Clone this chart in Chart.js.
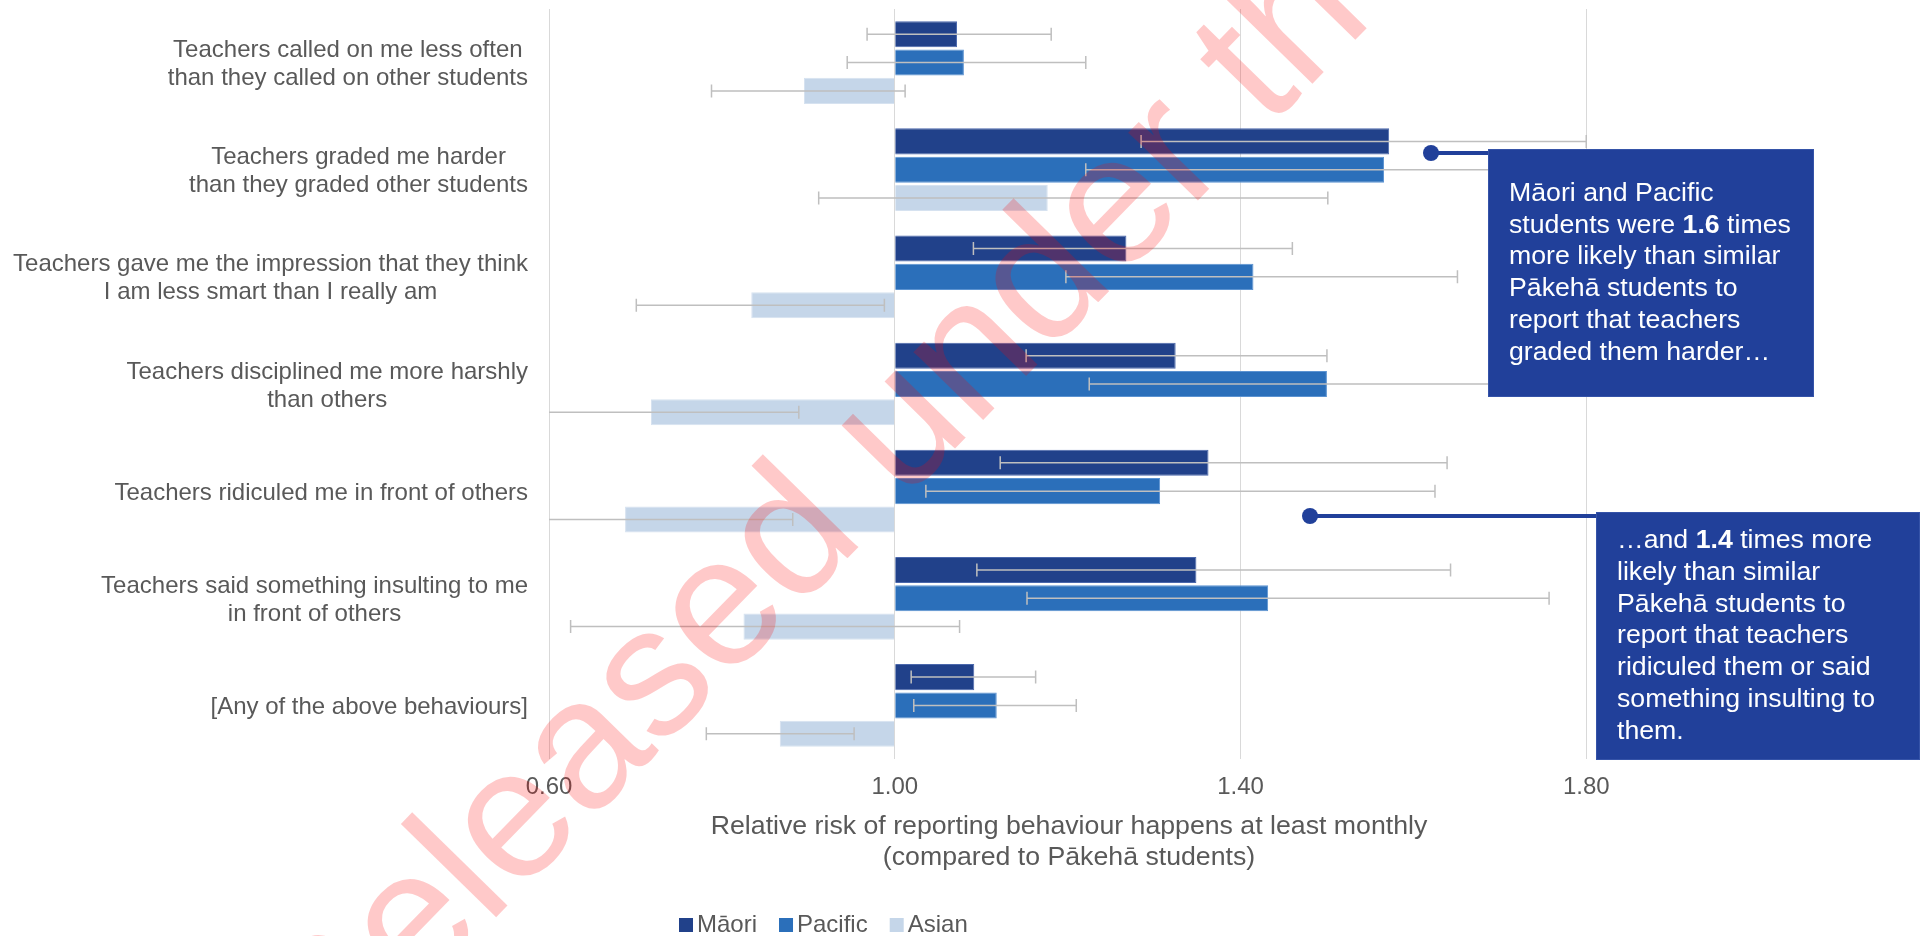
<!DOCTYPE html>
<html>
<head>
<meta charset="utf-8">
<script src="https://cdn.jsdelivr.net/npm/chart.js@4.4.1/dist/chart.umd.min.js"></script>
<style>
  html, body { margin: 0; padding: 0; background: #ffffff; overflow: hidden; }
  #wrap { position: relative; width: 1932px; height: 936px; }
</style>
</head>
<body>
<div id="wrap"><canvas id="chart"></canvas></div>
<script>
// Behaviours asked about (each entry is one wrapped label)
const CATEGORIES = [
  ['Teachers called on me less often', 'than they called on other students'],
  ['Teachers graded me harder', 'than they graded other students'],
  ['Teachers gave me the impression that they think', 'I am less smart than I really am'],
  ['Teachers disciplined me more harshly', 'than others'],
  ['Teachers ridiculed me in front of others'],
  ['Teachers said something insulting to me', 'in front of others'],
  ['[Any of the above behaviours]']
];

const SERIES_NAMES = ['Māori', 'Pacific', 'Asian'];

// Relative risk vs Pākehā students, with 95% confidence limits
const MAORI      = [1.072, 1.572, 1.268, 1.325, 1.363, 1.349, 1.092];
const MAORI_LOW  = [0.968, 1.285, 1.091, 1.152, 1.122, 1.095, 1.019];
const MAORI_HIGH = [1.181, 1.800, 1.460, 1.500, 1.639, 1.643, 1.163];

const PACIFIC      = [1.080, 1.566, 1.415, 1.500, 1.307, 1.432, 1.118];
const PACIFIC_LOW  = [0.945, 1.221, 1.198, 1.225, 1.036, 1.153, 1.022];
const PACIFIC_HIGH = [1.221, 2.010, 1.651, 1.840, 1.625, 1.757, 1.210];

const ASIAN      = [0.895, 1.177, 0.834, 0.718, 0.688, 0.825, 0.867];
const ASIAN_LOW  = [0.788, 0.912, 0.701, 0.581, 0.540, 0.625, 0.782];
const ASIAN_HIGH = [1.012, 1.501, 0.988, 0.889, 0.882, 1.075, 0.953];

const X_TICKS = [0.60, 1.00, 1.40, 1.80];

const AXIS_TITLE = ['Relative risk of reporting behaviour happens at least monthly',
                    '(compared to Pākehā students)'];

const CALLOUT_1 = [
  [['Māori and Pacific', false]],
  [['students were ', false], ['1.6', true], [' times', false]],
  [['more likely than similar', false]],
  [['Pākehā students to', false]],
  [['report that teachers', false]],
  [['graded them harder…', false]]
];
const CALLOUT_2 = [
  [['…and ', false], ['1.4', true], [' times more', false]],
  [['likely than similar', false]],
  [['Pākehā students to', false]],
  [['report that teachers', false]],
  [['ridiculed them or said', false]],
  [['something insulting to', false]],
  [['them.', false]]
];

const WATERMARK = 'Released under the';

const FONT = '"Liberation Sans", Arial, Helvetica, sans-serif';
const TEXT_GREY = '#595959';
const SERIES_FILL = ['#21418A', '#2B6FBA', '#C5D6E9'];
const SERIES_EDGE = ['#4B68AC', '#5C93D1', '#D6E2F0'];
const CALLOUT_BLUE = '#21409A';

// Confidence-interval whiskers, clipped to the plot area
const errorBars = {
  id: 'errorBars',
  afterDatasetsDraw(chart) {
    const { ctx, chartArea: a, scales: { x } } = chart;
    ctx.save();
    ctx.beginPath();
    ctx.rect(a.left, a.top, a.right - a.left, a.bottom - a.top);
    ctx.clip();
    ctx.strokeStyle = '#BFBFBF';
    ctx.lineWidth = 1.5;
    chart.data.datasets.forEach((ds, di) => {
      chart.getDatasetMeta(di).data.forEach((bar, i) => {
        const x1 = x.getPixelForValue(ds.ciLow[i]);
        const x2 = x.getPixelForValue(ds.ciHigh[i]);
        const y = bar.y;
        ctx.beginPath();
        ctx.moveTo(x1, y); ctx.lineTo(x2, y);
        ctx.moveTo(x1, y - 6.5); ctx.lineTo(x1, y + 6.5);
        ctx.moveTo(x2, y - 6.5); ctx.lineTo(x2, y + 6.5);
        ctx.stroke();
      });
    });
    ctx.restore();
  }
};

function drawRichLine(ctx, segs, x, y, size) {
  let cx = x;
  segs.forEach(([t, bold]) => {
    ctx.font = (bold ? 'bold ' : '') + size + 'px ' + FONT;
    ctx.fillText(t, cx, y);
    cx += ctx.measureText(t).width;
  });
}

function drawCallout(ctx, box, dot, lines) {
  // connector
  ctx.strokeStyle = CALLOUT_BLUE;
  ctx.fillStyle = CALLOUT_BLUE;
  ctx.lineWidth = 4;
  ctx.beginPath();
  ctx.moveTo(dot.x, dot.y);
  ctx.lineTo(box.x + 2, dot.y);
  ctx.stroke();
  ctx.beginPath();
  ctx.arc(dot.x, dot.y, 8, 0, Math.PI * 2);
  ctx.fill();
  // box
  ctx.fillRect(box.x, box.y, box.w, box.h);
  ctx.strokeStyle = '#3553A8';
  ctx.lineWidth = 1;
  ctx.strokeRect(box.x + 0.5, box.y + 0.5, box.w - 1, box.h - 1);
  // text
  ctx.fillStyle = '#FFFFFF';
  ctx.textAlign = 'left';
  ctx.textBaseline = 'middle';
  const lh = 31.8;
  const y0 = box.y + box.h / 2 - (lines.length - 1) * lh / 2;
  lines.forEach((segs, i) => drawRichLine(ctx, segs, box.x + 21, y0 + i * lh, 26.7));
}

const decorations = {
  id: 'decorations',
  afterDraw(chart) {
    const { ctx, scales: { x, y } } = chart;
    ctx.save();

    // category labels: block right-aligned, lines centred within the block
    ctx.fillStyle = TEXT_GREY;
    ctx.textBaseline = 'middle';
    ctx.textAlign = 'center';
    ctx.font = '24px ' + FONT;
    const right = x.left - 21;
    CATEGORIES.forEach((lines, i) => {
      const cy = y.getPixelForValue(i) + 2;
      const w = Math.max(...lines.map(l => ctx.measureText(l).width));
      const cx = right - w / 2;
      const lh = 28;
      const y0 = cy - (lines.length - 1) * lh / 2;
      lines.forEach((l, k) => ctx.fillText(l, cx, y0 + k * lh));
    });

    // axis title
    ctx.font = '26.7px ' + FONT;
    ctx.fillText(AXIS_TITLE[0], 1069, 827);
    ctx.fillText(AXIS_TITLE[1], 1069, 858);

    // legend
    ctx.font = '24px ' + FONT;
    ctx.textAlign = 'left';
    let lx = 679;
    SERIES_NAMES.forEach((name, i) => {
      ctx.fillStyle = SERIES_FILL[i];
      ctx.fillRect(lx, 918, 14, 14);
      ctx.fillStyle = TEXT_GREY;
      ctx.fillText(name, lx + 18, 925);
      lx += 18 + ctx.measureText(name).width + 22;
    });

    // callouts
    drawCallout(ctx, { x: 1488, y: 149, w: 326, h: 248 }, { x: 1431, y: 153 }, CALLOUT_1);
    drawCallout(ctx, { x: 1596, y: 512, w: 324, h: 248 }, { x: 1310, y: 516 }, CALLOUT_2);

    // watermark over everything
    ctx.translate(323, 1094);
    ctx.rotate(-45.6 * Math.PI / 180);
    ctx.fillStyle = 'rgba(255, 0, 0, 0.21)';
    ctx.textAlign = 'left';
    ctx.textBaseline = 'alphabetic';
    ctx.font = '184px ' + FONT;
    ctx.fillText(WATERMARK, 0, 0);

    ctx.restore();
  }
};

const makeSet = (i, values, low, high) => ({
  label: SERIES_NAMES[i],
  data: values,
  ciLow: low,
  ciHigh: high,
  base: 1,
  backgroundColor: SERIES_FILL[i],
  borderColor: SERIES_EDGE[i],
  borderWidth: 1,
  categoryPercentage: 0.793,
  barPercentage: 0.92
});

new Chart(document.getElementById('chart'), {
  type: 'bar',
  data: {
    labels: CATEGORIES,
    datasets: [
      makeSet(0, MAORI, MAORI_LOW, MAORI_HIGH),
      makeSet(1, PACIFIC, PACIFIC_LOW, PACIFIC_HIGH),
      makeSet(2, ASIAN, ASIAN_LOW, ASIAN_HIGH)
    ]
  },
  options: {
    indexAxis: 'y',
    responsive: true,
    maintainAspectRatio: false,
    animation: false,
    devicePixelRatio: 1,
    layout: { padding: { top: 9, left: 0, right: 0, bottom: 0 } },
    plugins: { legend: { display: false }, tooltip: { enabled: false } },
    scales: {
      x: {
        type: 'linear',
        min: 0.6,
        max: 2.2,
        afterBuildTicks: (s) => { s.ticks = X_TICKS.map(v => ({ value: v })); },
        afterFit: (s) => { s.height = 177; },
        grid: { color: '#D9D9D9', lineWidth: 1, drawTicks: false },
        border: { display: false },
        ticks: {
          padding: 14,
          color: TEXT_GREY,
          font: { family: FONT, size: 24 },
          callback: (v) => Number(v).toFixed(2)
        }
      },
      y: {
        type: 'category',
        afterFit: (s) => { s.width = 549; },
        grid: { display: false },
        border: { display: false },
        ticks: { display: false }
      }
    }
  },
  plugins: [errorBars, decorations]
});
</script>
</body>
</html>
